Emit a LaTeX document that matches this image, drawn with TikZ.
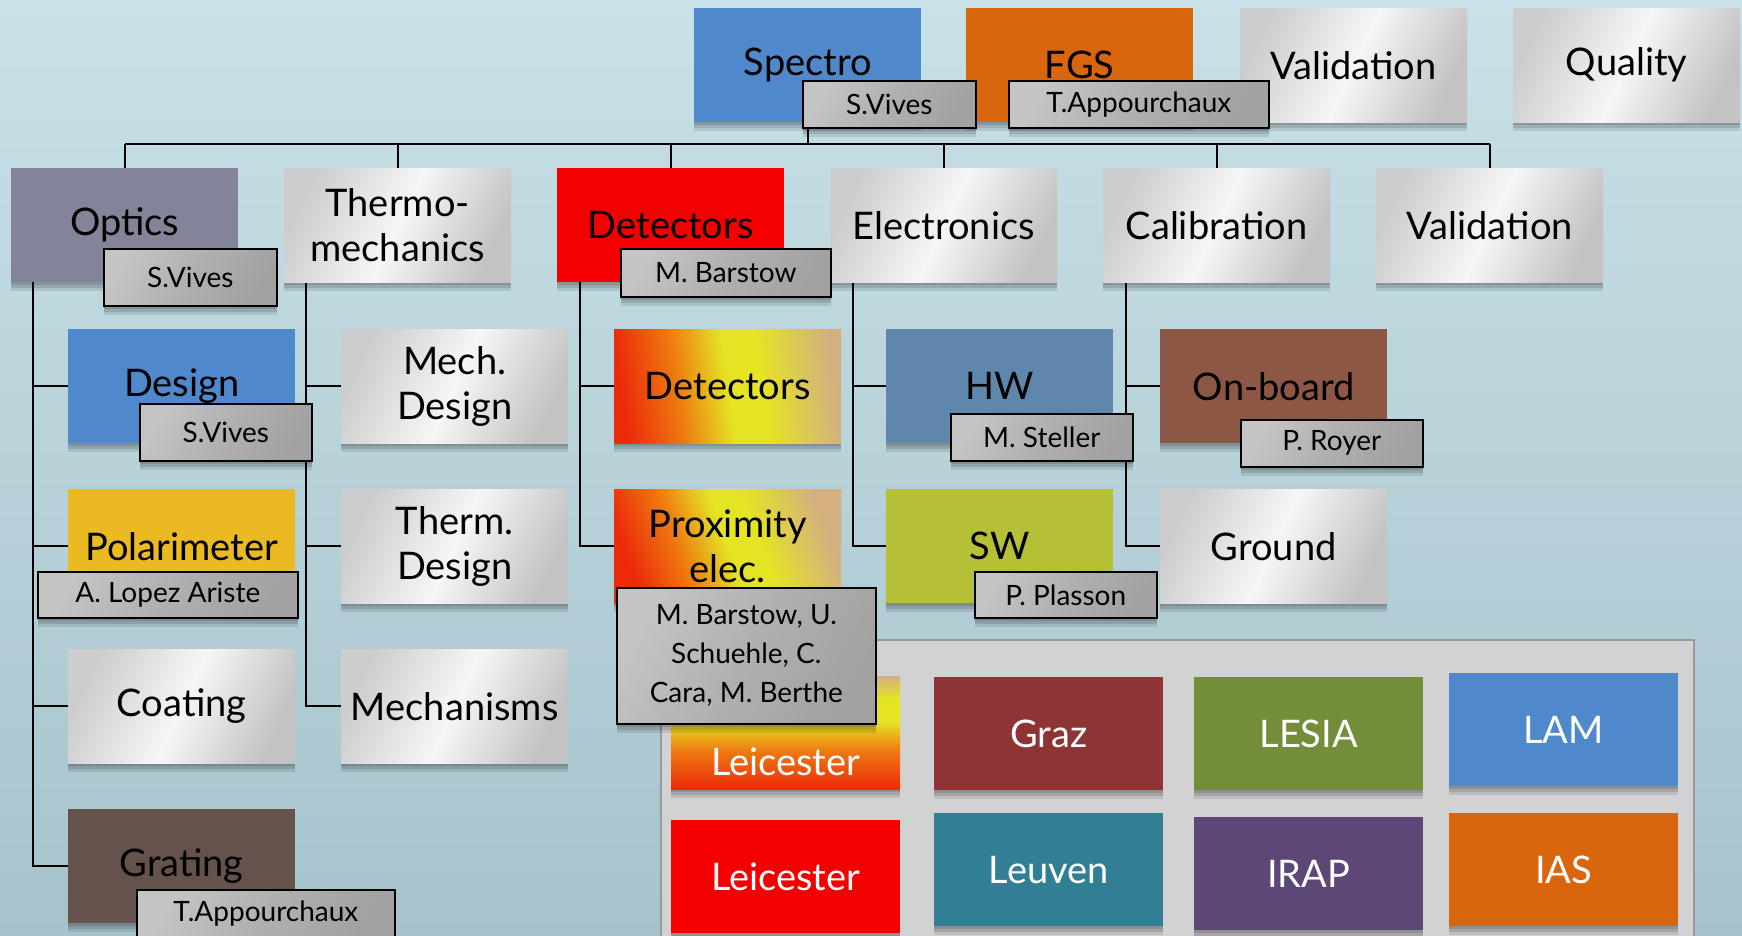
\documentclass[tikz,border=0pt]{standalone}
\usepackage{fontspec}
\setmainfont{Lato}
\usetikzlibrary{shadows}
\pgfdeclarelayer{back}
\pgfdeclarelayer{lines}
\pgfsetlayers{back,lines,main}
\definecolor{bgtop}{HTML}{C9E1E8}
\definecolor{bgbot}{HTML}{A6C3CB}
\definecolor{cblue}{HTML}{5088CC}
\definecolor{corange}{HTML}{D9650C}
\definecolor{coptics}{HTML}{83839A}
\definecolor{cred}{HTML}{F40000}
\definecolor{cpolar}{HTML}{EBB921}
\definecolor{cgrating}{HTML}{65524C}
\definecolor{chw}{HTML}{5E87AB}
\definecolor{conboard}{HTML}{8C5845}
\definecolor{csw}{HTML}{B6C036}
\definecolor{cgraz}{HTML}{8E3434}
\definecolor{clesia}{HTML}{738D39}
\definecolor{cleuven}{HTML}{317F95}
\definecolor{cirap}{HTML}{5C4777}
\definecolor{cpanel}{HTML}{D2D2D2}
\definecolor{cpanelb}{HTML}{9A9A9A}
\definecolor{gradA}{HTML}{EC2A0A}
\definecolor{gradO}{HTML}{EE7A10}
\definecolor{gradB}{HTML}{E4E424}
\definecolor{gradC}{HTML}{D4B080}
\definecolor{silverA}{HTML}{CDCDCD}
\definecolor{silverB}{HTML}{F6F6F6}
\definecolor{tagA}{HTML}{C4C4C4}
\definecolor{tagB}{HTML}{A2A2A2}
\pgfdeclarehorizontalshading{detshade}{100bp}{color(0bp)=(gradA); color(25bp)=(gradA); color(38bp)=(gradO); color(50bp)=(gradB); color(58bp)=(gradB); color(75bp)=(gradC); color(100bp)=(gradC)}
\pgfdeclareverticalshading{leicshade}{100bp}{color(0bp)=(gradA); color(25bp)=(gradA); color(42bp)=(gradO); color(55bp)=(gradB); color(65bp)=(gradB); color(75bp)=(gradC); color(100bp)=(gradC)}
\tikzset{
  softshadow/.style={
    drop shadow={shadow xshift=0pt, shadow yshift=-3pt, opacity=0.12, fill=black},
    drop shadow={shadow xshift=0pt, shadow yshift=-6pt, opacity=0.12, fill=black},
    drop shadow={shadow xshift=0pt, shadow yshift=-9pt, opacity=0.10, fill=black}},
  boxbase/.style={anchor=north west, minimum width=227pt, minimum height=114pt,
    inner sep=0pt, align=center, font=\fontsize{38}{45}\selectfont, text=black, softshadow},
  flat/.style={boxbase, fill=#1},
  silver/.style={boxbase, left color=silverA, right color=silverA!95!black, middle color=silverB, shading angle=65},
  inst/.style={boxbase, minimum width=229pt, minimum height=113pt, fill=#1, text=white},
  nametag/.style={anchor=north west, draw=black, line width=1.6pt, inner sep=0pt, align=center,
    font=\fontsize{28}{39}\selectfont, left color=tagA, right color=tagB, middle color=tagB!85!white, shading angle=60,
    softshadow},
  conn/.style={line width=1.8pt, black},
}
\begin{document}
\begin{tikzpicture}[x=1pt,y=-1pt]
\useasboundingbox (0,0) rectangle (1742,936);
\begin{pgfonlayer}{back}
\shade[top color=bgtop, bottom color=bgbot] (0,0) rectangle (1742,936);
\end{pgfonlayer}
% panel of institutes
\node[anchor=north west, fill=cpanel, draw=cpanelb, line width=2pt, minimum width=1033pt, minimum height=320pt, inner sep=0pt] (panel) at (660,639) {};
\node[boxbase, minimum width=229pt, minimum height=113pt, shading=leicshade] (leicA) at (671,676) {};
\node[text=white, font=\fontsize{38}{45}\selectfont] (leicAtxt) at ([yshift=-29pt]leicA.center) {Leicester};
\node[inst=cgraz] (graz) at (934,677) {Graz};
\node[inst=clesia] (lesia) at (1194,677) {LESIA};
\node[inst=cblue] (lam) at (1449,673) {LAM};
\node[inst=cred] (leicB) at (671,820) {Leicester};
\node[inst=cleuven] (leuven) at (934,813) {Leuven};
\node[inst=cirap] (irap) at (1194,817) {IRAP};
\node[inst=corange] (ias) at (1449,813) {IAS};
% top row
\node[flat=cblue] (spectro) at (694,8) {Spectro};
\node[flat=corange] (fgs) at (966,8) {FGS};
\node[silver] (valtop) at (1240,8) {Validation};
\node[silver] (quality) at (1513,8) {Quality};
% row 1
\node[flat=coptics] (optics) at (11,168) {Optics};
\node[silver] (thermo) at (284,168) {Thermo-\\mechanics};
\node[flat=cred] (detectors) at (557,168) {Detectors};
\node[silver] (electronics) at (830,168) {Electronics};
\node[silver] (calibration) at (1103,168) {Calibration};
\node[silver] (validation) at (1376,168) {Validation};
% row 2
\node[flat=cblue] (design) at (68,329) {Design};
\node[silver] (mechdesign) at (341,329) {Mech.\\Design};
\node[boxbase, shading=detshade, shading angle=8] (detgrad) at (614,329) {Detectors};
\node[flat=chw] (hw) at (886,329) {HW};
\node[flat=conboard] (onboard) at (1160,329) {On-board};
% row 3
\node[flat=cpolar] (polar) at (68,489) {Polarimeter};
\node[silver] (thermdesign) at (341,489) {Therm.\\Design};
\node[boxbase, shading=detshade, shading angle=20] (prox) at (614,489) {Proximity\\elec.};
\node[flat=csw] (sw) at (886,489) {SW};
\node[silver] (ground) at (1160,489) {Ground};
% row 4
\node[silver] (coating) at (68,649) {Coating};
\node[silver] (mechanisms) at (341,649) {Mechanisms};
% row 5
\node[flat=cgrating] (grating) at (68,809) {Grating};
% name tags
\node[nametag, minimum width=173pt, minimum height=47pt] (tspectro) at (802,80) {S.Vives};
\node[nametag, minimum width=260pt, minimum height=47pt] (tfgs) at (1008,80) {T.Appourchaux};
\node[nametag, minimum width=173pt, minimum height=57pt] (toptics) at (103,248) {S.Vives};
\node[nametag, minimum width=210pt, minimum height=48pt] (tdet) at (620,248) {M. Barstow};
\node[nametag, minimum width=172pt, minimum height=57pt] (tdesign) at (139,403) {S.Vives};
\node[nametag, minimum width=182pt, minimum height=47pt] (thw) at (950,413) {M. Steller};
\node[nametag, minimum width=182pt, minimum height=47pt] (tonboard) at (1240,419) {P. Royer};
\node[nametag, minimum width=260pt, minimum height=46pt] (tpolar) at (37,571) {A. Lopez Ariste};
\node[nametag, minimum width=182pt, minimum height=46pt] (tsw) at (974,571) {P. Plasson};
\node[nametag, minimum width=259pt, minimum height=136pt] (tprox) at (616,587) {M. Barstow, U.\\Schuehle, C.\\Cara, M. Berthe};
\node[nametag, minimum width=258pt, minimum height=47pt] (tgrating) at (136,889) {T.Appourchaux};
% connectors
\begin{pgfonlayer}{lines}
\coordinate (bus) at (0,144);
\draw[conn] (optics.north |- bus) -- (validation.north |- bus);
\draw[conn] (spectro.south) -- (spectro.south |- bus);
\foreach \n in {optics,thermo,detectors,electronics,calibration,validation}
  \draw[conn] (\n.north) -- (\n.north |- bus);
\coordinate (ot) at ([xshift=22pt]optics.south west);
\foreach \n in {design,polar,coating,grating} \draw[conn] (ot) |- (\n.west);
\coordinate (tt) at ([xshift=22pt]thermo.south west);
\foreach \n in {mechdesign,thermdesign,mechanisms} \draw[conn] (tt) |- (\n.west);
\coordinate (dt) at ([xshift=23pt]detectors.south west);
\foreach \n in {detgrad,prox} \draw[conn] (dt) |- (\n.west);
\coordinate (et) at ([xshift=23pt]electronics.south west);
\foreach \n in {hw,sw} \draw[conn] (et) |- (\n.west);
\coordinate (ct) at ([xshift=23pt]calibration.south west);
\foreach \n in {onboard,ground} \draw[conn] (ct) |- (\n.west);
\end{pgfonlayer}
\end{tikzpicture}
\end{document}
